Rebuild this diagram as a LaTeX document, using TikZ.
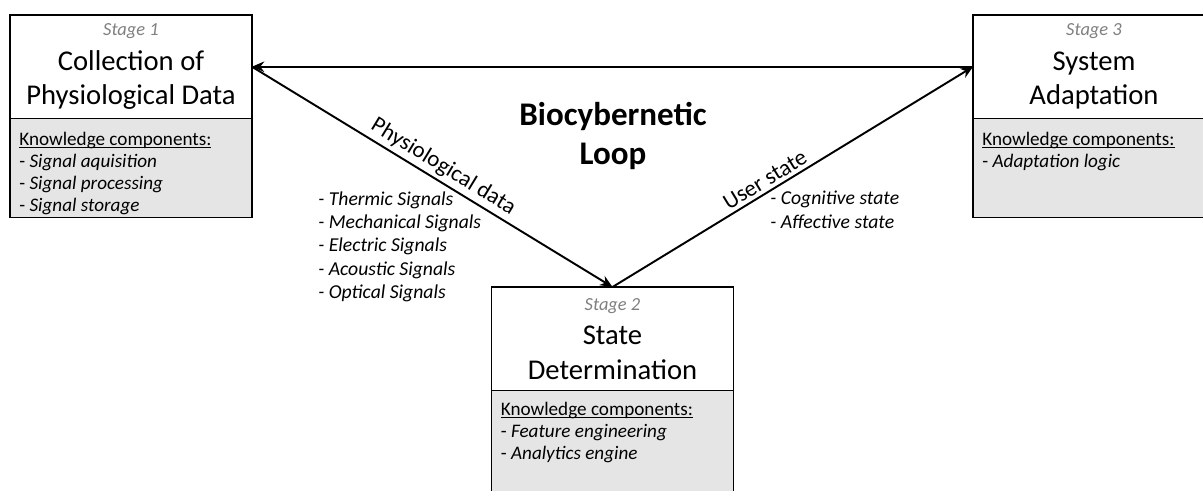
\documentclass[tikz,border=0pt]{standalone}
\usepackage{fontspec}
\setmainfont{Carlito}
\usetikzlibrary{arrows.meta,positioning}

\begin{document}
\begin{tikzpicture}[x=0.02cm,y=-0.02cm]
            \tikzset{stagebox/.style = {draw, line width=0.8pt, fill=white, minimum width=4.84cm, minimum height=2.07cm, inner sep=0pt, outer sep=0pt, align=center, anchor=north, font=\fontsize{16.3}{19.6}\selectfont}}
            \tikzset{knowbox/.style = {draw, line width=0.8pt, fill=black!10, minimum width=4.84cm, inner sep=0pt, outer sep=0pt}}
            \tikzset{knowtext/.style = {anchor=north west, inner sep=0pt, align=left, font=\fontsize{10.9}{12.6}\selectfont}}
            \tikzset{siglist/.style = {anchor=north west, inner sep=0pt, align=left, font=\fontsize{11.2}{13.3}\selectfont\itshape}}
            \tikzset{flow/.style = {line width=1.1pt, -{Stealth[length=7pt,width=6pt]}}}
            \tikzset{flowlabel/.style = {sloped, above, inner sep=2pt, font=\fontsize{13}{15}\selectfont}}
            \useasboundingbox (0,0) rectangle (1203,490);
            \clip (0,0) rectangle (1203,490);
            % stages
            \node[stagebox] (s1) at (131,15) {{\fontsize{10.5}{12}\selectfont\color{black!50}\itshape Stage 1}\\Collection of\\Physiological Data};
            \node[stagebox] (s2) at (612.5,287) {{\fontsize{10.5}{12}\selectfont\color{black!50}\itshape Stage 2}\\State\\Determination};
            \node[stagebox] (s3) at (1094,15) {{\fontsize{10.5}{12}\selectfont\color{black!50}\itshape Stage 3}\\System\\Adaptation};
            % knowledge components
            \node[knowbox, minimum height=1.98cm, below=0pt of s1] (k1) {};
            \node[knowbox, minimum height=2.4cm, below=0pt of s2] (k2) {};
            \node[knowbox, minimum height=1.98cm, below=0pt of s3] (k3) {};
            \node[knowtext] (k1t) at ([xshift=0.18cm, yshift=-0.28cm]k1.north west) {\vphantom{Kg}\underline{\smash{Knowledge components:}}\\- \textit{Signal aquisition}\\- \textit{Signal processing}\\- \textit{Signal storage}};
            \node[knowtext] (k2t) at ([xshift=0.18cm, yshift=-0.24cm]k2.north west) {\vphantom{Kg}\underline{\smash{Knowledge components:}}\\- \textit{Feature engineering}\\- \textit{Analytics engine}};
            \node[knowtext] (k3t) at ([xshift=0.18cm, yshift=-0.28cm]k3.north west) {\vphantom{Kg}\underline{\smash{Knowledge components:}}\\- \textit{Adaptation logic}};
            % loop
            \node[font=\fontsize{18.8}{22.7}\selectfont\bfseries, align=center] (loop) at (613,136) {Biocybernetic\\Loop};
            \draw[flow] (s3.west) -- (s1.east);
            \draw[flow] (s1.east) -- node[flowlabel, pos=0.51] (pd) {Physiological data} (s2.north);
            \draw[flow] (s2.north) -- node[flowlabel, pos=0.44] (us) {User state} (s3.west);
            % signal lists
            \node[siglist] (sig) at (318,191) {- Thermic Signals\\- Mechanical Signals\\- Electric Signals\\- Acoustic Signals\\- Optical Signals};
            \node[siglist] (st) at (770,191) {- Cognitive state\\- Affective state};
        \end{tikzpicture}
\end{document}
